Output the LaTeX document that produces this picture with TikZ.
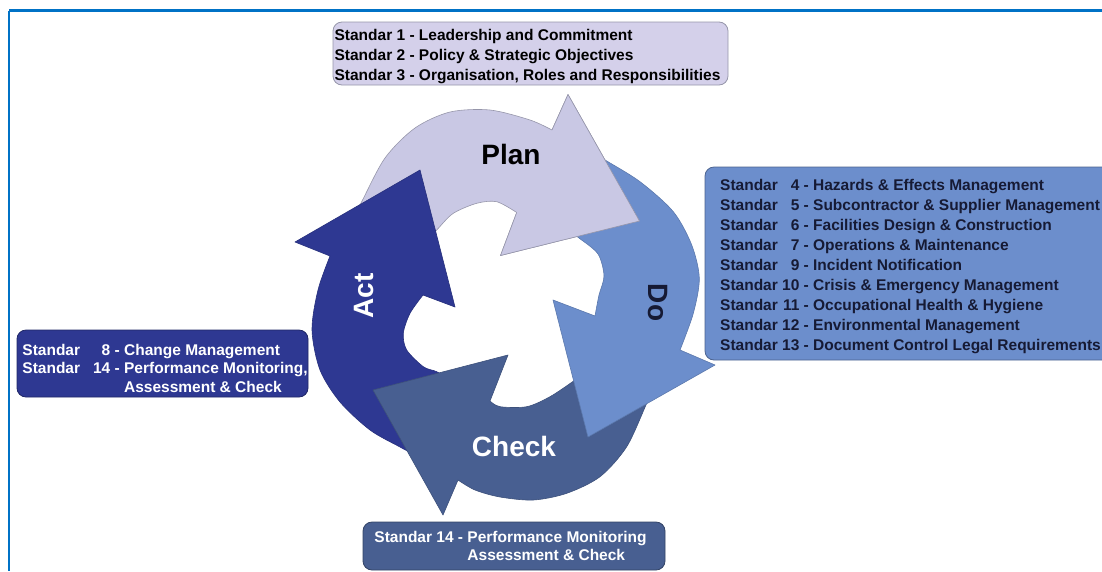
\documentclass[tikz,border=0pt]{standalone}
\usepackage{fontspec}
\setmainfont{Liberation Sans}
\definecolor{framblue}{RGB}{0,114,198}
\definecolor{planlav}{RGB}{201,200,228}
\definecolor{planedge}{RGB}{150,150,170}
\definecolor{doblue}{RGB}{108,142,204}
\definecolor{checkblue}{RGB}{72,95,145}
\definecolor{actblue}{RGB}{46,56,146}
\definecolor{toplav}{RGB}{212,208,234}
\definecolor{inkdark}{RGB}{22,26,52}
\tikzstyle{frameline} = [line width=2.5pt, framblue]
\tikzstyle{planarrow} = [fill=planlav, draw=planedge, line width=0.6pt, line join=round]
\tikzstyle{doarrow} = [fill=doblue, draw=doblue!85!black, line width=0.6pt, line join=round]
\tikzstyle{checkarrow} = [fill=checkblue, draw=checkblue!85!black, line width=0.6pt, line join=round]
\tikzstyle{actarrow} = [fill=actblue, draw=actblue!85!black, line width=0.6pt, line join=round]
\tikzstyle{pdcalabel} = [font=\fontsize{28}{30}\selectfont\bfseries, inner sep=0pt]
\tikzstyle{stdbox} = [rectangle, rounded corners=9pt, line width=0.8pt, inner sep=0pt]
\tikzstyle{stdtext} = [inner sep=0pt, font=\fontsize{15.5}{20}\selectfont\bfseries]

\begin{document}
\begin{tikzpicture}[x=1pt, y=-1pt]
    \useasboundingbox (0,0) rectangle (1102,571);
    % Frame
    \draw[frameline] (9,10.5) -- (1102,10.5);
    \draw[frameline] (9,10.5) -- (9,571);

    % Cycle arrows - Plan first, its head is drawn again at the end
    \filldraw[planarrow] plot[smooth] coordinates {(352,220) (361.7,201.7) (385,158) (415,128) (450,112) (490,110) (530,120) (552,130)}
        -- (568,94.5) -- (639.5,221) -- (500.5,255.5)
        -- plot[smooth] coordinates {(516.7,212.5) (496.7,201.7) (476.7,203.3) (453.3,213.3) (438.3,228.3) (428,240)} -- cycle;
    \filldraw[actarrow] plot[smooth] coordinates {(415,455) (400,447) (370,430) (340,402) (320,370) (312,330) (318,290) (330,256)}
        -- (295,242) -- (420,170) -- (455,307)
        -- plot[smooth] coordinates {(423,295) (410,313.3) (403.3,333.3) (406.7,350) (423.3,366.7) (436.7,371.7) (450,380)} -- cycle;
    \filldraw[checkarrow] plot[smooth] coordinates {(655,385) (646.7,403.3) (626.7,446.7) (600,476.7) (566.7,493.3) (533.3,500) (500,497) (475,490) (458,480)}
        -- (443,515) -- (373,390) -- (508,355)
        -- plot[smooth] coordinates {(490,401) (500,406.7) (526.7,406.7) (550,396.7) (575,380) (590,368)} -- cycle;
    \filldraw[doarrow] plot[smooth] coordinates {(588,150) (605,160) (640,181.7) (673.3,211.7) (691.7,245) (699.3,278.3) (693.3,313.3) (680,350)}
        -- (715,365) -- (588,437) -- (553,300)
        -- plot[smooth] coordinates {(595,316) (599,295) (604,276) (598,254) (579,238) (565,228)} -- cycle;
    \filldraw[planarrow] (552,130) -- (568,94.5) -- (639.5,221) -- (500.5,255.5) -- (516.7,212.5);

    % Cycle labels
    \node[pdcalabel, text=black] (plan) at (511,154) {Plan};
    \node[pdcalabel, text=inkdark, rotate=-90] (do) at (657.5,302.5) {Do};
    \node[pdcalabel, text=white] (check) at (514,446) {Check};
    \node[pdcalabel, text=white, rotate=90] (act) at (364,296) {Act};

    % Standard boxes
    \node[stdbox, fill=toplav, draw=planedge, minimum width=395pt, minimum height=63pt] (planbox) at (530.5,53.5) {};
    \node[stdbox, fill=doblue, draw=doblue!70!black, minimum width=411pt, minimum height=193pt] (dobox) at (910.5,263.5) {};
    \node[stdbox, fill=actblue, draw=actblue!70!black, minimum width=291pt, minimum height=67pt] (actbox) at (162.5,363.5) {};
    \node[stdbox, fill=checkblue, draw=checkblue!70!black, minimum width=302pt, minimum height=48pt] (checkbox) at (514,546) {};

    % Standard texts
    \node[stdtext, text=black] (plantxt) at (527.5,56.5)
        {\begin{tabular}{@{}l@{}}
        Standar 1 - Leadership and Commitment\\
        Standar 2 - Policy \& Strategic Objectives\\
        Standar 3 - Organisation, Roles and Responsibilities
        \end{tabular}};
    \node[stdtext, text=inkdark] (dotxt) at (910.5,266.5)
        {\begin{tabular}{@{}l@{\ }r@{\ -\ }l@{}}
        Standar & 4 & Hazards \& Effects Management\\
        Standar & 5 & Subcontractor \& Supplier Management\\
        Standar & 6 & Facilities Design \& Construction\\
        Standar & 7 & Operations \& Maintenance\\
        Standar & 9 & Incident Notification\\
        Standar & 10 & Crisis \& Emergency Management\\
        Standar & 11 & Occupational Health \& Hygiene\\
        Standar & 12 & Environmental Management\\
        Standar & 13 & Document Control Legal Requirements
        \end{tabular}};
    \node[stdtext, text=white, font=\fontsize{15.5}{18.5}\selectfont\bfseries] (acttxt) at (165,370)
        {\begin{tabular}{@{}l@{\hspace{13pt}}r@{\ -\ }l@{}}
        Standar & 8 & Change Management\\
        Standar & 14 & Performance Monitoring,\\
        \multicolumn{3}{@{}l@{}}{\hphantom{Standar\hspace{13pt}14\ -\ }Assessment \& Check}
        \end{tabular}};
    \node[stdtext, text=white, font=\fontsize{15.5}{17.5}\selectfont\bfseries] (checktxt) at (510.5,548)
        {\begin{tabular}{@{}l@{\ }r@{\ -\ }l@{}}
        Standar & 14 & Performance Monitoring\\
        \multicolumn{3}{@{}l@{}}{\hphantom{Standar\ 14\ -\ }Assessment \& Check}
        \end{tabular}};
\end{tikzpicture}
\end{document}
